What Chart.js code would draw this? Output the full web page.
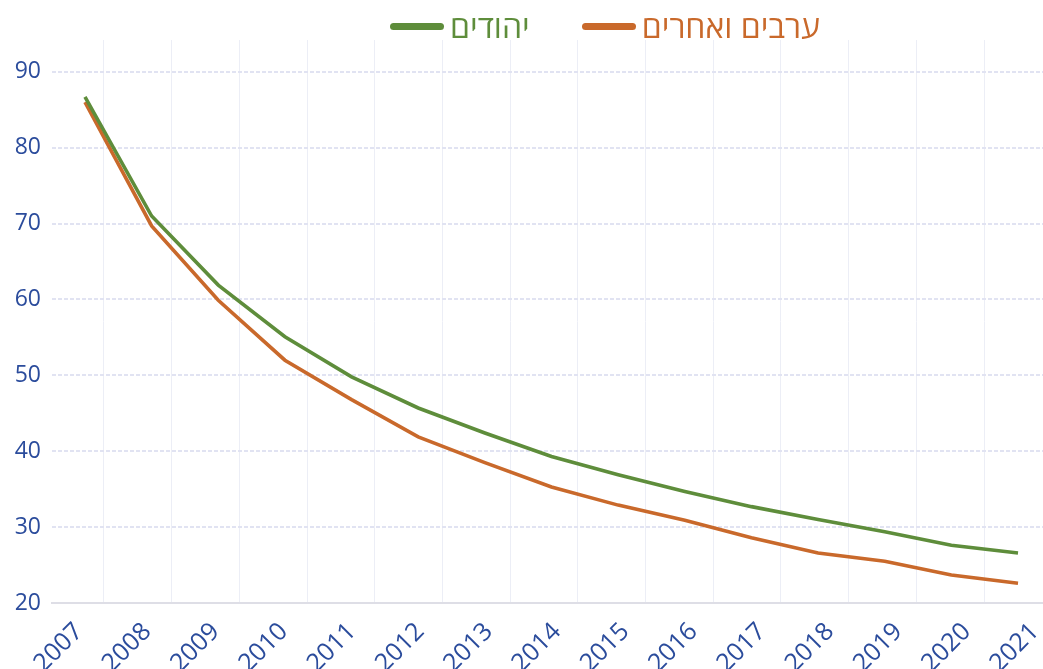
<!DOCTYPE html>
<html>
<head>
<meta charset="utf-8">
<style>
  html, body { margin: 0; padding: 0; background: #fff; }
  #wrap { position: relative; width: 1043px; height: 669px; }
  #legend {
      position: absolute; top: 6px; left: 390px;
      display: flex; align-items: center;
      font-family: 'Open Sans', 'Liberation Sans', 'DejaVu Sans', sans-serif;
      font-size: 32px; line-height: 40px;
  }
  #legend .item { display: flex; align-items: center; margin-right: 52px; }
  #legend .swatch { width: 54px; height: 7px; border-radius: 4px; margin-right: 6px; }
</style>
</head>
<body>
<div id="wrap">
  <canvas id="rateChart" width="1043" height="669"></canvas>
  <div id="legend"></div>
</div>

<script src="https://cdn.jsdelivr.net/npm/chart.js"></script>
<script>
  // years on the x axis
  const years = [2007, 2008, 2009, 2010, 2011, 2012, 2013, 2014, 2015, 2016, 2017, 2018, 2019, 2020, 2021];

  // series values
  const jews = [86.7, 71.0, 61.9, 55.1, 49.8, 45.7, 42.4, 39.3, 36.9, 34.7, 32.7, 31.0, 29.4, 27.6, 26.6];
  const arabsOthers = [86.0, 69.7, 59.9, 52.0, 46.8, 41.9, 38.5, 35.3, 32.9, 30.9, 28.6, 26.6, 25.5, 23.7, 22.6];

  const seriesNames = ['יהודים', 'ערבים ואחרים'];
  const yTicks = [20, 30, 40, 50, 60, 70, 80, 90];

  const GREEN = '#5e8d3b';
  const ORANGE = '#c9692b';
  const TICK_BLUE = '#2b4c9c';
  const FONT = "'Open Sans', 'Liberation Sans', 'DejaVu Sans', sans-serif";

  function toPoints(values) {
      return years.map(function (y, i) { return { x: y, y: values[i] }; });
  }

  const ctx = document.getElementById('rateChart');
  var rateChart = new Chart(ctx, {
      type: 'line',
      data: {
          datasets: [
              {
                  label: seriesNames[0],
                  data: toPoints(jews),
                  borderColor: GREEN,
                  backgroundColor: GREEN,
                  borderWidth: 3.6,
                  pointRadius: 0,
                  tension: 0,
                  xAxisID: 'x',
              },
              {
                  label: seriesNames[1],
                  data: toPoints(arabsOthers),
                  borderColor: ORANGE,
                  backgroundColor: ORANGE,
                  borderWidth: 3.6,
                  pointRadius: 0,
                  tension: 0,
                  xAxisID: 'x',
              },
          ]
      },
      options: {
          responsive: false,
          animation: false,
          layout: {
              padding: { left: 0, right: 0, top: 40, bottom: 0 }
          },
          plugins: {
              legend: { display: false },
              tooltip: { enabled: false }
          },
          scales: {
              // data axis (hidden)
              x: {
                  type: 'linear',
                  display: false,
                  min: 2006.505,
                  max: 2021.375
              },
              // year labels, spaced a bit wider than the data like in the original
              xl: {
                  type: 'linear',
                  position: 'bottom',
                  min: 2006.605,
                  max: 2021.117,
                  afterBuildTicks: function (scale) {
                      scale.ticks = years.map(function (y) { return { value: y }; });
                  },
                  afterFit: function (scale) {
                      scale.height = 66;
                      scale.paddingLeft = 0;
                      scale.paddingRight = 0;
                  },
                  ticks: {
                      color: TICK_BLUE,
                      font: { family: FONT, size: 25 },
                      minRotation: 45,
                      maxRotation: 45,
                      padding: 6,
                      callback: function (v) { return String(v); }
                  },
                  grid: { display: false },
                  border: { display: true, color: '#dedee6', width: 2 }
              },
              // vertical grid lines only
              xg: {
                  type: 'linear',
                  position: 'bottom',
                  min: -0.768,
                  max: 13.87,
                  afterFit: function (scale) { scale.height = 0; },
                  ticks: { display: false, stepSize: 1, includeBounds: false },
                  grid: { color: '#eceef6', lineWidth: 1, drawTicks: false },
                  border: { display: false }
              },
              y: {
                  min: 20,
                  max: 94.2,
                  afterBuildTicks: function (scale) {
                      scale.ticks = yTicks.map(function (v) { return { value: v }; });
                  },
                  afterFit: function (scale) { scale.width = 52; },
                  ticks: {
                      color: TICK_BLUE,
                      font: { family: FONT, size: 23 },
                      padding: 11
                  },
                  grid: { color: '#e1e3f2', lineWidth: 2, drawTicks: false },
                  border: { display: false, dash: [4, 2] }
              }
          }
      }
  });

  // html legend: line swatch left of the hebrew label
  const legendEl = document.getElementById('legend');
  rateChart.data.datasets.forEach(function (ds) {
      const item = document.createElement('div');
      item.className = 'item';
      const sw = document.createElement('span');
      sw.className = 'swatch';
      sw.style.background = ds.borderColor;
      const txt = document.createElement('span');
      txt.textContent = ds.label;
      txt.style.color = ds.borderColor;
      item.appendChild(sw);
      item.appendChild(txt);
      legendEl.appendChild(item);
  });
</script>
</body>
</html>
